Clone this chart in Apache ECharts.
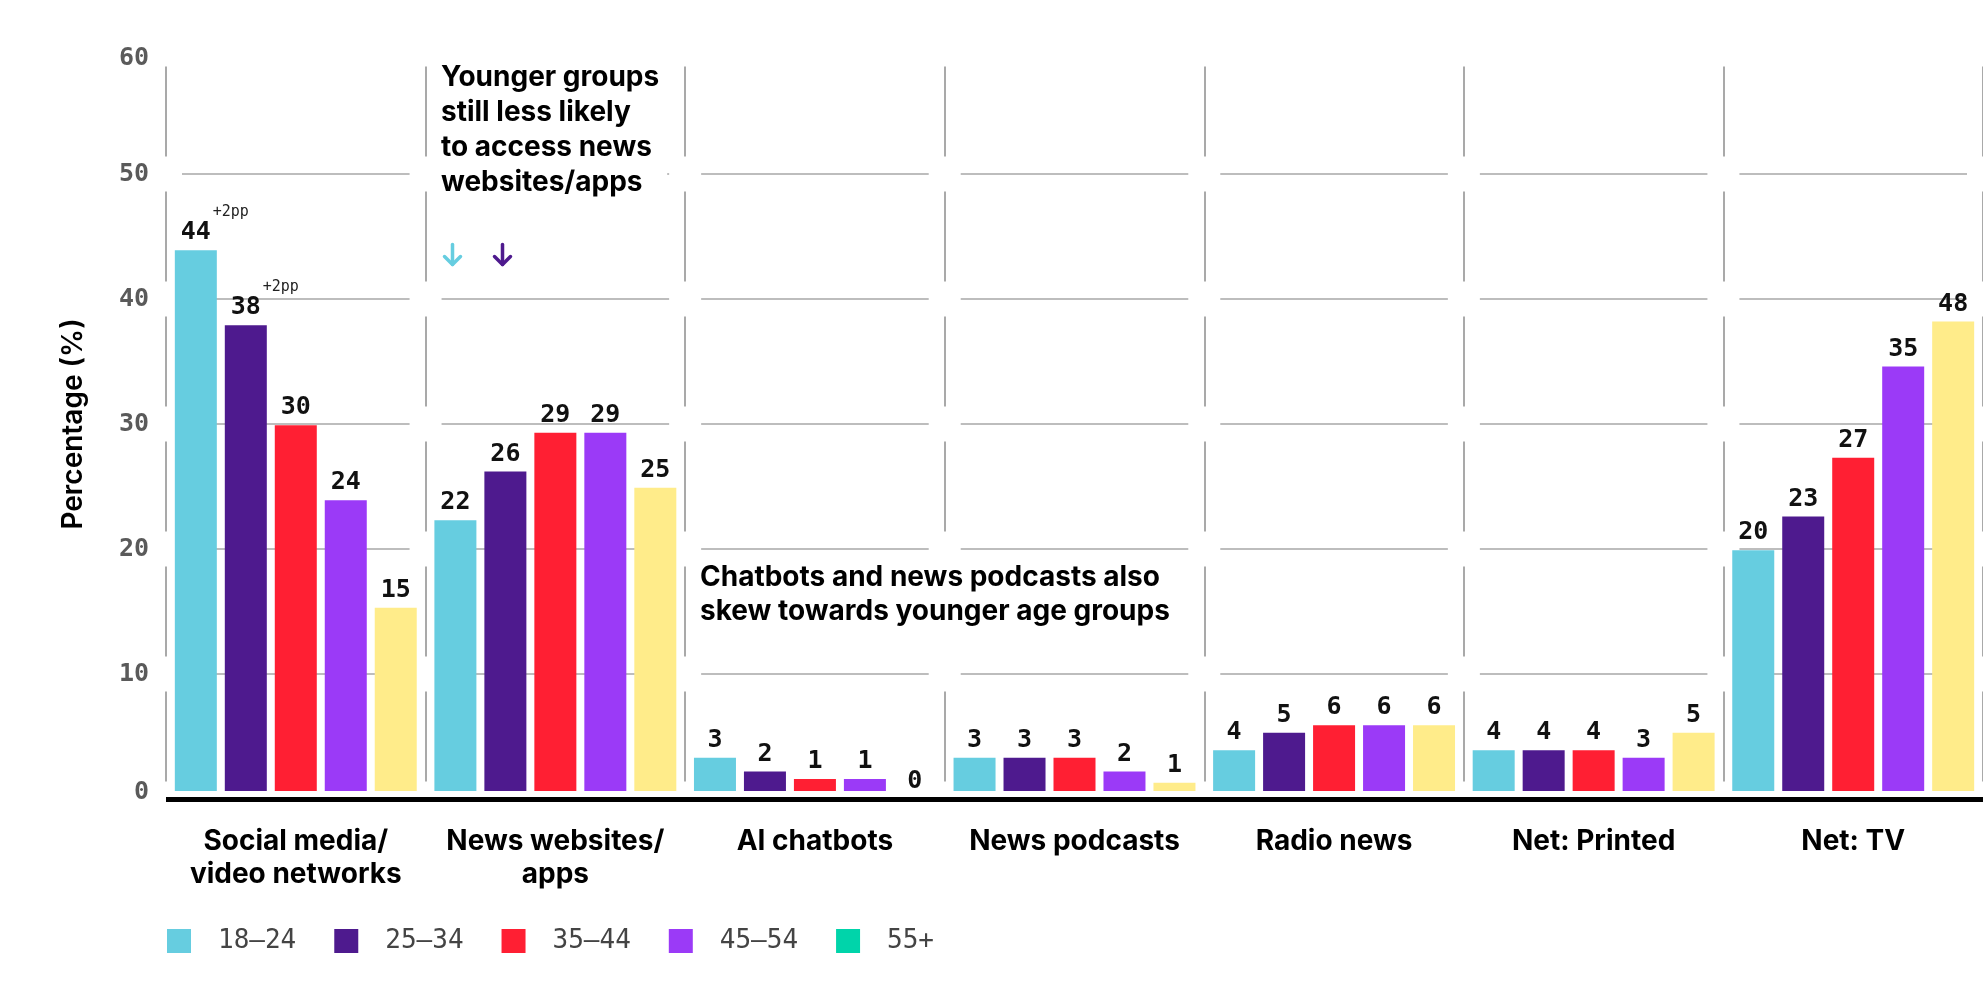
<!DOCTYPE html>
<html>
<head>
<meta charset="utf-8">
<title>News sources by age group</title>
<script src="https://cdn.jsdelivr.net/npm/echarts@6/dist/echarts.min.js"></script>
<style>
  html, body { margin: 0; padding: 0; background: #fff; }
  #chart { width: 1983px; height: 1000px; }
</style>
</head>
<body>
<div id="chart"></div>
<script>
// categories along the x axis
const categories = [
    'Social media/\nvideo networks',
    'News websites/\napps',
    'AI chatbots',
    'News podcasts',
    'Radio news',
    'Net: Printed',
    'Net: TV'
];
const ageGroups = ['18–24', '25–34', '35–44', '45–54', '55+'];

// bar heights as drawn, and the numbers printed above them
const age1824 = [43.9, 22.3, 3.3, 3.3, 3.9, 3.9, 19.9];
const age1824Labels = ['44', '22', '3', '3', '4', '4', '20'];
const age2534 = [37.9, 26.2, 2.2, 3.3, 5.3, 3.9, 22.6];
const age2534Labels = ['38', '26', '2', '3', '5', '4', '23'];
const age3544 = [29.9, 29.3, 1.6, 3.3, 5.9, 3.9, 27.3];
const age3544Labels = ['30', '29', '1', '3', '6', '4', '27'];
const age4554 = [23.9, 29.3, 1.6, 2.2, 5.9, 3.3, 34.6];
const age4554Labels = ['24', '29', '1', '2', '6', '3', '35'];
const age55 = [15.3, 24.9, 0, 1.3, 5.9, 5.3, 38.2];
const age55Labels = ['15', '25', '0', '1', '6', '5', '48'];

// small change notes over single bars
const changeNotes = [
    { group: '18–24', category: 0, text: '+2pp' },
    { group: '25–34', category: 0, text: '+2pp' }
];

// arrows under the first annotation, one per age group it refers to
const arrowGroups = ['18–24', '25–34'];

const yTicks = [0, 10, 20, 30, 40, 50, 60];

const barColors = ['#66cde0', '#4e1a8e', '#ff1f33', '#9b3af7', '#ffec8a'];
const legendColors = ['#66cde0', '#4e1a8e', '#ff1f33', '#9b3af7', '#00d4aa'];

const monoFont = '"DejaVu Sans Mono", monospace';
const boldFont = 'Inter, "Noto Sans", sans-serif';

const seriesValues = [age1824, age2534, age3544, age4554, age55];
const seriesLabels = [age1824Labels, age2534Labels, age3544Labels, age4554Labels, age55Labels];

function buildBarSeries(idx){
    const name = ageGroups[idx];
    const data = seriesValues[idx].map((v, i) => {
        const note = changeNotes.find(n => n.group === name && n.category === i);
        return { value: v, text: seriesLabels[idx][i], note: note ? note.text : '' };
    });
    return {
        name: name,
        type: 'bar',
        z: 2,
        barWidth: 42,
        barGap: '19%',
        itemStyle: { color: barColors[idx] },
        label: {
            show: true,
            position: 'top',
            distance: 5,
            formatter: function(p){
                const head = p.data.note ? '{pp|' + p.data.note + '}\n' : '';
                return head + '{v|' + p.data.text + '}';
            },
            rich: {
                v: { fontFamily: monoFont, fontWeight: 'bold', fontSize: 25, color: '#111', lineHeight: 25 },
                pp: { fontFamily: monoFont, fontSize: 15, color: '#222', lineHeight: 17, width: 38, padding: [0, 0, 0, 70] }
            }
        },
        data: data
    };
}

// white gaps where the grid lines cross the category separators
const crossData = [];
categories.forEach((c, i) => {
    yTicks.forEach(t => {
        crossData.push([i, t, -1]);
        if (i === categories.length - 1) crossData.push([i, t, 1]);
    });
});

const frameSeries = {
    type: 'custom',
    name: 'frame',
    silent: true,
    z: 1,
    renderItem: function(params, api){
        const p = api.coord([api.value(0), api.value(1)]);
        const w = api.size([1, 0])[0];
        const x = p[0] + api.value(2) * w / 2;
        return {
            type: 'rect',
            shape: { x: x - 16, y: p[1] - 17.5, width: 32, height: 35 },
            style: { fill: '#fff' }
        };
    },
    data: crossData
};

// baseline: thin white gap under the bars and the heavy black rule
const baseSeries = {
    type: 'custom',
    name: 'base',
    silent: true,
    z: 5,
    renderItem: function(params, api){
        const p = api.coord([api.value(0), 0]);
        const w = api.size([1, 0])[0];
        return {
            type: 'group',
            children: [
                { type: 'rect', shape: { x: p[0] - w / 2, y: p[1] - 8, width: w + 1, height: 6 }, style: { fill: '#fff' } },
                { type: 'rect', shape: { x: p[0] - w / 2, y: p[1] - 2, width: w + 1, height: 5 }, style: { fill: '#000' } }
            ]
        };
    },
    data: categories.map((c, i) => [i, 0])
};

function arrowGraphic(x, color){
    return {
        type: 'group',
        left: x,
        top: 242,
        z: 10,
        children: [
            { type: 'line', shape: { x1: 10, y1: 0, x2: 10, y2: 20 }, style: { stroke: color, lineWidth: 3.5, lineCap: 'round' } },
            { type: 'polyline', shape: { points: [[2, 12], [10, 20], [18, 12]] }, style: { stroke: color, lineWidth: 3.5, lineCap: 'round', lineJoin: 'round', fill: null } }
        ]
    };
}

const chart = echarts.init(document.getElementById('chart'));

const option = {
    animation: false,
    backgroundColor: '#fff',
    grid: { left: 166, right: 0, top: 49, bottom: 201 },
    legend: {
        left: 167,
        top: 928,
        padding: 0,
        icon: 'rect',
        itemWidth: 24,
        itemHeight: 24,
        itemGap: 38,
        textStyle: { fontFamily: monoFont, fontSize: 26, color: '#444', padding: [0, 0, 0, 22] },
        data: ageGroups.map((g, i) => ({ name: g, itemStyle: { color: legendColors[i] } }))
    },
    xAxis: {
        type: 'category',
        data: categories,
        axisLine: { show: false },
        axisTick: { show: false },
        splitLine: { show: true, interval: 0, lineStyle: { color: '#8c8c8c', width: 1.5 } },
        axisLabel: {
            interval: 0,
            margin: 26,
            fontFamily: boldFont,
            fontWeight: 700,
            fontSize: 28,
            lineHeight: 33,
            color: '#000'
        }
    },
    yAxis: {
        type: 'value',
        min: 0,
        max: 60,
        interval: 10,
        name: 'Percentage (%)',
        nameLocation: 'middle',
        nameGap: 78,
        nameRotate: 90,
        nameTextStyle: { fontFamily: boldFont, fontWeight: 600, fontSize: 28, color: '#000' },
        axisLine: { show: false },
        axisTick: { show: false },
        splitLine: { show: true, showMinLine: false, showMaxLine: false, lineStyle: { color: '#bdbdbd', width: 2 } },
        axisLabel: {
            margin: 17,
            fontFamily: monoFont,
            fontSize: 25,
            color: '#555',
            formatter: function(v){
                if (v === 60) return '{top|' + v + '}';
                if (v === 0) return '{bot|' + v + '}';
                return '{n|' + v + '}';
            },
            rich: {
                n: { fontFamily: monoFont, fontWeight: 'bold', fontSize: 25, color: '#5a5a5a' },
                top: { fontFamily: monoFont, fontWeight: 'bold', fontSize: 25, color: '#5a5a5a', padding: [18, 0, 0, 0] },
                bot: { fontFamily: monoFont, fontWeight: 'bold', fontSize: 25, color: '#5a5a5a', padding: [0, 0, 14, 0] }
            }
        }
    },
    graphic: [
        {
            type: 'text',
            left: 441,
            top: 60,
            z: 10,
            style: {
                text: 'Younger groups\nstill less likely\nto access news\nwebsites/apps',
                font: '700 28px ' + boldFont,
                lineHeight: 35,
                fill: '#000',
                backgroundColor: '#fff',
                padding: [0, 8, 4, 0]
            }
        },
        arrowGraphic(442, barColors[ageGroups.indexOf(arrowGroups[0])]),
        arrowGraphic(492, barColors[ageGroups.indexOf(arrowGroups[1])]),
        {
            type: 'text',
            left: 700,
            top: 561,
            z: 10,
            style: {
                text: 'Chatbots and news podcasts also\nskew towards younger age groups',
                font: '700 28px ' + boldFont,
                lineHeight: 34,
                fill: '#000',
                backgroundColor: '#fff',
                padding: [0, 6, 28, 0]
            }
        }
    ],
    series: [frameSeries].concat(ageGroups.map((g, i) => buildBarSeries(i))).concat([baseSeries])
};

chart.setOption(option);
</script>
</body>
</html>
